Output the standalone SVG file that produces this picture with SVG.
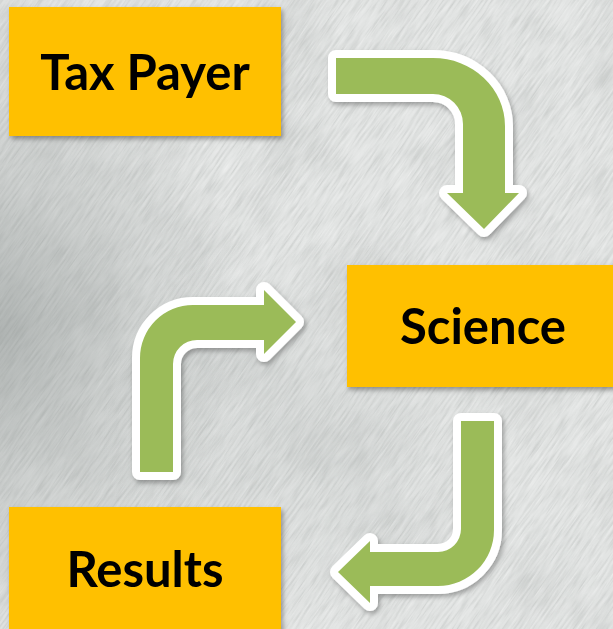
<svg xmlns="http://www.w3.org/2000/svg" width="613" height="629" viewBox="0 0 613 629">
  <defs>
    <style>
      .box { fill: #FFC000; filter: url(#boxShadow); }
      .label { font-family: Lato, "Liberation Sans", sans-serif; font-weight: 700; font-size: 49px; fill: #000; text-anchor: middle; }
      .arrow { fill: #9BBB59; stroke: #FFFFFF; stroke-width: 16; stroke-linejoin: round; paint-order: stroke; filter: url(#arrowShadow); }
    </style>
    <filter id="boxShadow" x="-10%" y="-10%" width="125%" height="130%">
      <feDropShadow dx="2" dy="3" stdDeviation="2.5" flood-color="#000" flood-opacity="0.35"/>
    </filter>
    <filter id="arrowShadow" x="-15%" y="-15%" width="135%" height="135%">
      <feDropShadow dx="2" dy="3" stdDeviation="2.5" flood-color="#000" flood-opacity="0.3"/>
    </filter>
    <!-- fine diagonal grain of the paper texture -->
    <filter id="streaks" x="0" y="0" width="100%" height="100%">
      <feTurbulence type="fractalNoise" baseFrequency="0.035 0.45" numOctaves="3" seed="11" result="n"/>
      <feColorMatrix in="n" type="matrix" result="dark" values="0 0 0 0 0.45  0 0 0 0 0.47  0 0 0 0 0.46  1.8 0 0 0 -0.85"/>
      <feColorMatrix in="n" type="matrix" result="light" values="0 0 0 0 1  0 0 0 0 1  0 0 0 0 1  -1.8 0 0 0 0.8"/>
      <feMerge>
        <feMergeNode in="dark"/>
        <feMergeNode in="light"/>
      </feMerge>
    </filter>
    <!-- broad mottling -->
    <filter id="mottle" x="0" y="0" width="100%" height="100%">
      <feTurbulence type="fractalNoise" baseFrequency="0.012" numOctaves="3" seed="4" result="m"/>
      <feColorMatrix in="m" type="matrix" values="0 0 0 0 0.5  0 0 0 0 0.52  0 0 0 0 0.51  1.4 0 0 0 -0.6"/>
    </filter>
    <radialGradient id="leftShade" cx="0" cy="330" r="250" gradientUnits="userSpaceOnUse" gradientTransform="translate(0 330) scale(1 1.3) translate(0 -330)">
      <stop offset="0" stop-color="#7d8482" stop-opacity="0.5"/>
      <stop offset="0.55" stop-color="#8a908e" stop-opacity="0.22"/>
      <stop offset="1" stop-color="#8a908e" stop-opacity="0"/>
    </radialGradient>
    <radialGradient id="midShade" cx="300" cy="430" r="200" gradientUnits="userSpaceOnUse">
      <stop offset="0" stop-color="#9aa09e" stop-opacity="0.18"/>
      <stop offset="1" stop-color="#9aa09e" stop-opacity="0"/>
    </radialGradient>
  </defs>

  <!-- background -->
  <g id="background">
    <rect width="613" height="629" fill="#e2e4e3"/>
    <rect width="613" height="629" filter="url(#mottle)" opacity="0.5"/>
    <g transform="rotate(-55 306 314)">
      <rect x="-300" y="-300" width="1220" height="1230" filter="url(#streaks)" opacity="0.6"/>
    </g>
    <rect width="613" height="629" fill="url(#leftShade)"/>
    <rect width="613" height="629" fill="url(#midShade)"/>
  </g>

  <!-- connectors -->
  <g id="connectors">
    <path id="arrow-taxpayer-science" class="arrow" d="M336,58 H433 A72,68 0 0 1 505,126 V193 H519 L484,229 L447,193 H463 V124 A30,30 0 0 0 433,94 H336 Z"/>
    <path id="arrow-results-science" class="arrow" d="M140,472 V358 A53,53 0 0 1 193,305 H264 V290 L296,322 L264,354 V340 H197 A24,24 0 0 0 173,364 V472 Z"/>
    <path id="arrow-science-results" class="arrow" d="M461,421 H494 V530 A56,56 0 0 1 438,586 H370 V603 L338,572 L370,541 V552 H438 A23,23 0 0 0 461,529 Z"/>
  </g>

  <!-- nodes -->
  <g id="node-taxpayer">
    <rect class="box" x="9" y="7" width="272" height="129"/>
    <text class="label" x="145" y="90">Tax Payer</text>
  </g>
  <g id="node-science">
    <rect class="box" x="347" y="265" width="272" height="122"/>
    <text class="label" x="483" y="344">Science</text>
  </g>
  <g id="node-results">
    <rect class="box" x="9" y="507" width="272" height="128"/>
    <text class="label" x="145" y="587">Results</text>
  </g>
</svg>
